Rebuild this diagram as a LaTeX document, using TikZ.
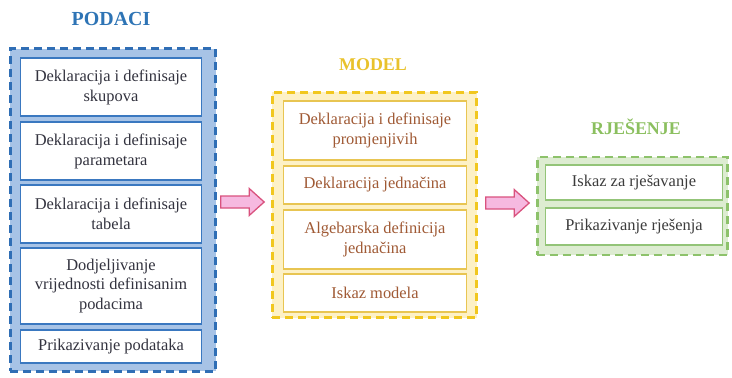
\documentclass[tikz,border=0pt]{standalone}
\usepackage{fontspec}
\setmainfont{Liberation Serif}
\usetikzlibrary{calc}
\definecolor{bfill}{HTML}{A7C3E6}
\definecolor{bline}{HTML}{2F6EB5}
\definecolor{binner}{HTML}{3A78C0}
\definecolor{btext}{HTML}{33333F}
\definecolor{btitle}{HTML}{2E74B5}
\definecolor{yfill}{HTML}{FDF1C6}
\definecolor{yline}{HTML}{F1C71F}
\definecolor{yinner}{HTML}{E8C552}
\definecolor{ytext}{HTML}{A05A35}
\definecolor{ytitle}{HTML}{E9C22C}
\definecolor{gfill}{HTML}{DDECD1}
\definecolor{gline}{HTML}{8DC26B}
\definecolor{ginner}{HTML}{93C478}
\definecolor{gtext}{HTML}{3C3C3C}
\definecolor{gtitle}{HTML}{8BBF5F}
\definecolor{afill}{HTML}{F6B9E0}
\definecolor{aline}{HTML}{D9527E}
\newcommand\blockarrow[2]{\draw[pinkarrow] ($(#1)+(0,-6)$) -- ($(#2)+(-15,-6)$) -- ($(#2)+(-15,-13.5)$) -- (#2) -- ($(#2)+(-15,13.5)$) -- ($(#2)+(-15,6)$) -- ($(#1)+(0,6)$) -- cycle;}
\begin{document}
\begin{tikzpicture}[x=1bp,y=-1bp,
  frame/.style={draw, line width=2.4bp, dash pattern=on 8bp off 5bp, inner sep=0pt},
  inbox/.style={draw, fill=white, line width=1.5bp, inner sep=0pt, align=center,
    font=\fontsize{16.5}{20}\selectfont},
  ttl/.style={font=\fontsize{20}{22}\selectfont\bfseries},
  ttls/.style={font=\fontsize{18}{22}\selectfont\bfseries},
  pinkarrow/.style={draw=aline, fill=afill, line width=1.3bp, line join=miter}]
\useasboundingbox (0,0) rectangle (732,377);
% PODACI
\node[ttl, text=btitle] (tp) at (111,19) {PODACI};
\node[frame, draw=bline, fill=bfill, minimum width=206, minimum height=324] (podaci) at (113,210) {};
\tikzset{bb/.style={inbox, draw=binner, text=btext, minimum width=182}}
\node[bb, minimum height=58] (p1) at (111,87) {Deklaracija i definisaje\\skupova};
\node[bb, minimum height=58] (p2) at (111,151) {Deklaracija i definisaje\\parametara};
\node[bb, minimum height=58] (p3) at (111,214) {Deklaracija i definisaje\\tabela};
\node[bb, minimum height=76] (p4) at (111,286) {Dodjeljivanje\\vrijednosti definisanim\\podacima};
\node[bb, minimum height=33] (p5) at (111,346.5) {Prikazivanje podataka};
% MODEL
\node[ttls, text=ytitle] (tm) at (373,65) {MODEL};
\node[frame, draw=yline, fill=yfill, minimum width=205, minimum height=226] (model) at (374.5,205) {};
\tikzset{yb/.style={inbox, draw=yinner, text=ytext, minimum width=184}}
\node[yb, minimum height=59] (m1) at (375,130.5) {Deklaracija i definisaje\\promjenjivih};
\node[yb, minimum height=38] (m2) at (375,185) {Deklaracija jednačina};
\node[yb, minimum height=59] (m3) at (375,239.5) {Algebarska definicija\\jednačina};
\node[yb, minimum height=38] (m4) at (375,293) {Iskaz modela};
% RJESENJE
\node[ttls, text=gtitle] (tr) at (636,127) {RJEŠENJE};
\node[frame, draw=gline, fill=gfill, minimum width=191, minimum height=98] (rjes) at (632.5,206) {};
\tikzset{gb/.style={inbox, draw=ginner, text=gtext, minimum width=178}}
\node[gb, minimum height=35] (r1) at (634,182.5) {Iskaz za rješavanje};
\node[gb, minimum height=37] (r2) at (634,226.5) {Prikazivanje rješenja};
% arrows
\coordinate (a1s) at ($(podaci.east |- 0,202)+(4,0)$);
\coordinate (a1e) at ($(model.west |- 0,202)+(-7,0)$);
\coordinate (a2s) at ($(model.east |- 0,203)+(8,0)$);
\coordinate (a2e) at ($(rjes.west |- 0,203)+(-7,0)$);
\blockarrow{a1s}{a1e}
\blockarrow{a2s}{a2e}
\end{tikzpicture}
\end{document}
